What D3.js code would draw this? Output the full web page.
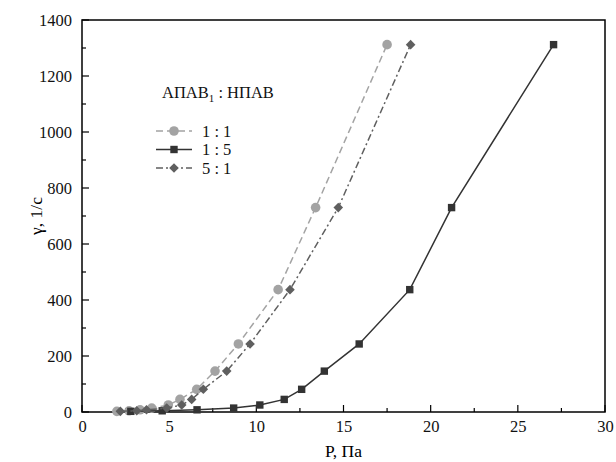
<!DOCTYPE html>
<html><head><meta charset="utf-8">
<script src="https://cdn.jsdelivr.net/npm/d3@7"></script>
<style>body{margin:0;background:#fff}svg{display:block}</style>
</head><body>
<script>
const gammaValues = [1312, 730, 437, 243, 146, 81, 45, 25, 14, 7.8, 4.3, 2.4];
const p11 = [17.5, 13.4, 11.25, 8.97, 7.63, 6.58, 5.62, 4.95, 4.0, 3.33, 2.7, 2.0];
const p15 = [27.05, 21.2, 18.8, 15.9, 13.9, 12.6, 11.6, 10.2, 8.7, 6.6, 4.6, 2.8];
const p51 = [18.85, 14.7, 11.93, 9.64, 8.3, 6.96, 6.29, 5.72, 4.86, 3.7, 3.14, 2.2];
const seriesNames = ["1 : 1", "1 : 5", "5 : 1"];
const xTicks = [0, 5, 10, 15, 20, 25, 30];
const yTicks = [0, 200, 400, 600, 800, 1000, 1200, 1400];

const W = 616, H = 462;
const m = {l: 82, r: 11, t: 20, b: 50};
const svg = d3.select("body").append("svg").attr("width", W).attr("height", H);
const x = d3.scaleLinear().domain([0, 30]).range([m.l, W - m.r]);
const y = d3.scaleLinear().domain([0, 1400]).range([H - m.b, m.t]);
const font = "'Liberation Serif', 'Times New Roman', Times, serif";

const series = [
  {name: seriesNames[0], xs: p11, color: "#a3a3a3", dash: "7,4", shape: "circle"},
  {name: seriesNames[1], xs: p15, color: "#333333", dash: null, shape: "square"},
  {name: seriesNames[2], xs: p51, color: "#5f5f5f", dash: "7,3,2,3", shape: "diamond"}
];

// axes
const xMinor = d3.range(0, 30.01, 2.5);
const yMinor = d3.range(0, 1400.1, 100);
const g = svg.append("g");
g.selectAll(".xm").data(xMinor).join("line")
  .attr("x1", d => x(d)).attr("x2", d => x(d))
  .attr("y1", y(0)).attr("y2", d => y(0) - (d % 5 === 0 ? 7 : 4))
  .attr("stroke", "#000").attr("stroke-width", 1.2);
g.selectAll(".ym").data(yMinor).join("line")
  .attr("y1", d => y(d)).attr("y2", d => y(d))
  .attr("x1", x(0)).attr("x2", d => x(0) + (d % 200 === 0 ? 7 : 4))
  .attr("stroke", "#000").attr("stroke-width", 1.2);
svg.append("rect").attr("x", x(0)).attr("y", y(1400))
  .attr("width", x(30) - x(0)).attr("height", y(0) - y(1400))
  .attr("fill", "none").attr("stroke", "#000").attr("stroke-width", 1.5);

const xAxis = d3.axisBottom(x).tickValues(xTicks).tickSize(0).tickPadding(8).tickFormat(d3.format("d"));
const xa = svg.append("g").attr("transform", `translate(0,${y(0)})`).call(xAxis);
const yAxis = d3.axisLeft(y).tickValues(yTicks).tickSize(0).tickPadding(10).tickFormat(d3.format("d"));
const ya = svg.append("g").attr("transform", `translate(${x(0)},0)`).call(yAxis);
[xa, ya].forEach(a => {
  a.select(".domain").remove();
  a.selectAll("text").attr("font-family", font).attr("font-size", 16.5).attr("fill", "#111");
});

svg.append("text").attr("x", (x(0) + x(30)) / 2).attr("y", 457)
  .attr("text-anchor", "middle").attr("font-family", font).attr("font-size", 17.5).text("P, Па");
svg.append("text").attr("transform", `translate(42,${(y(0) + y(1400)) / 2}) rotate(-90)`)
  .attr("text-anchor", "middle").attr("font-family", font).attr("font-size", 17.5).text("γ, 1/с");

function marker(sel, shape, color) {
  if (shape === "circle") sel.append("circle").attr("r", 4.8).attr("fill", color);
  else if (shape === "square") sel.append("rect").attr("x", -3.7).attr("y", -3.7).attr("width", 7.4).attr("height", 7.4).attr("fill", color);
  else sel.append("path").attr("d", "M0,-4.8L4.8,0L0,4.8L-4.8,0Z").attr("fill", color);
}

const line = d3.line().x(d => x(d[0])).y(d => y(d[1]));
series.forEach(s => {
  const pts = s.xs.map((v, i) => [v, gammaValues[i]]).sort((a, b) => a[0] - b[0]);
  svg.append("path").attr("d", line(pts)).attr("fill", "none")
    .attr("stroke", s.color).attr("stroke-width", 1.5)
    .attr("stroke-dasharray", s.dash);
  pts.forEach(p => {
    const gg = svg.append("g").attr("transform", `translate(${x(p[0])},${y(p[1])})`);
    marker(gg, s.shape, s.color);
  });
});

// legend
const lg = svg.append("g");
const title = lg.append("text").attr("x", 162).attr("y", 98)
  .attr("font-family", font).attr("font-size", 16.5).attr("fill", "#111");
title.append("tspan").text("АПАВ");
title.append("tspan").attr("font-size", 11).attr("dy", 4).text("1");
title.append("tspan").attr("dy", -4).text(" : НПАВ");
series.forEach((s, i) => {
  const yy = 131 + i * 18.5;
  lg.append("line").attr("x1", 156).attr("x2", 192).attr("y1", yy).attr("y2", yy)
    .attr("stroke", s.color).attr("stroke-width", 1.5).attr("stroke-dasharray", s.dash);
  marker(lg.append("g").attr("transform", `translate(174,${yy})`), s.shape, s.color);
  lg.append("text").attr("x", 202).attr("y", yy + 5.5).attr("font-family", font)
    .attr("font-size", 16.5).attr("fill", "#111").text(s.name);
});
</script>
</body></html>
